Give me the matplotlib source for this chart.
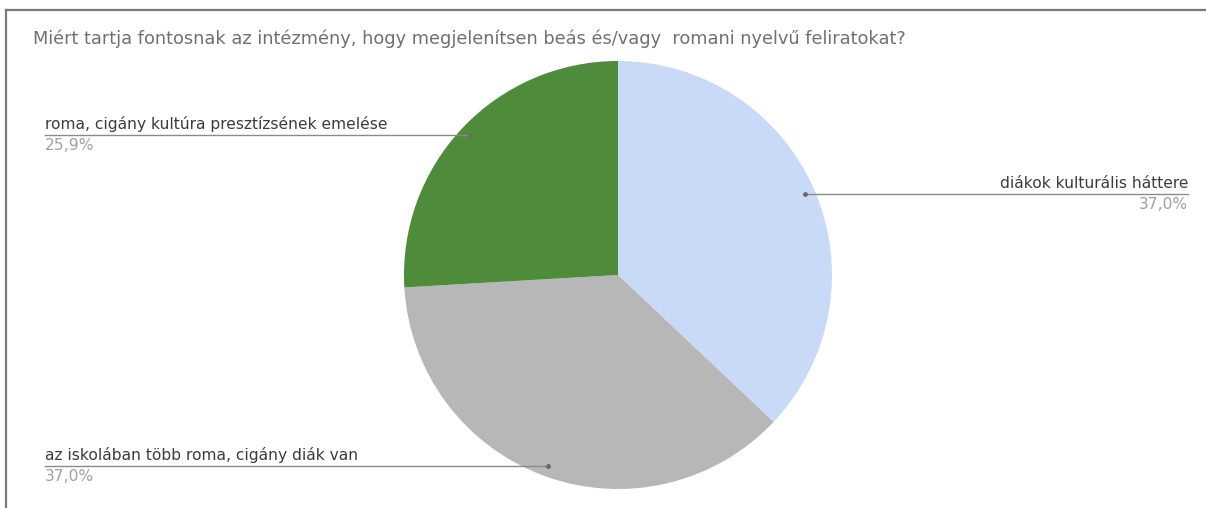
import matplotlib.pyplot as plt
import matplotlib.lines as mlines
import numpy as np

plt.rcParams['font.family'] = ['DejaVu Sans']

title = 'Miért tartja fontosnak az intézmény, hogy megjelenítsen beás és/vagy  romani nyelvű feliratokat?'
labels = ['diákok kulturális háttere', 'az iskolában több roma, cigány diák van',
          'roma, cigány kultúra presztízsének emelése']
counts = [10, 10, 7]
colors = ['#c9daf8', '#b7b7b7', '#4e8b3b']
# which side each label goes on
sides = ['right', 'left', 'left']

W, H = 1206, 508
fig = plt.figure(figsize=(W / 100, H / 100), dpi=100)

# pie centre (618, 275) px, radius 214 px
cx, cy, r = 618, 275, 214
ax = fig.add_axes([(cx - r) / W, (H - cy - r) / H, 2 * r / W, 2 * r / H])
ax.pie(counts, colors=colors, startangle=90, counterclock=False,
       wedgeprops={'linewidth': 0})
ax.set_xlim(-1, 1)
ax.set_ylim(-1, 1)
ax.set_aspect('equal')
ax.axis('off')

# frame
fig.add_artist(mlines.Line2D([6 / W, 1], [1 - 10 / H, 1 - 10 / H], color='#7a7a7a', lw=1.6))
fig.add_artist(mlines.Line2D([6 / W, 6 / W], [0, 1 - 10 / H], color='#7a7a7a', lw=1.6))

fig.text(33 / W, 1 - 39 / H, title, fontsize=12.8, color='#707070', va='center', ha='left')

total = sum(counts)
start = 90.0
for lab, c, side in zip(labels, counts, sides):
    sweep = 360.0 * c / total
    mid = np.deg2rad(start - sweep / 2)
    start -= sweep
    px, py = 0.95 * np.cos(mid), 0.95 * np.sin(mid)
    dx, dy = ax.transData.transform((px, py))
    fy = dy / H
    if side == 'left':
        xend, ha = 45 / W, 'left'
    else:
        xend, ha = 1188 / W, 'right'
    fig.add_artist(mlines.Line2D([dx / W, xend], [fy, fy], color='#8a8a8a', lw=1.0))
    fig.add_artist(mlines.Line2D([dx / W], [fy], marker='o', ms=2.5, color='#6a6a6a', lw=0))
    pct = f'{100 * c / total:.1f}%'.replace('.', ',')
    fig.text(xend, fy + 3 / H, lab, fontsize=11.2, color='#3c3c3c', ha=ha, va='bottom')
    fig.text(xend, fy - 3 / H, pct, fontsize=11.2, color='#a0a0a0', ha=ha, va='top')

fig.savefig('out.png', dpi=100, facecolor='white')
